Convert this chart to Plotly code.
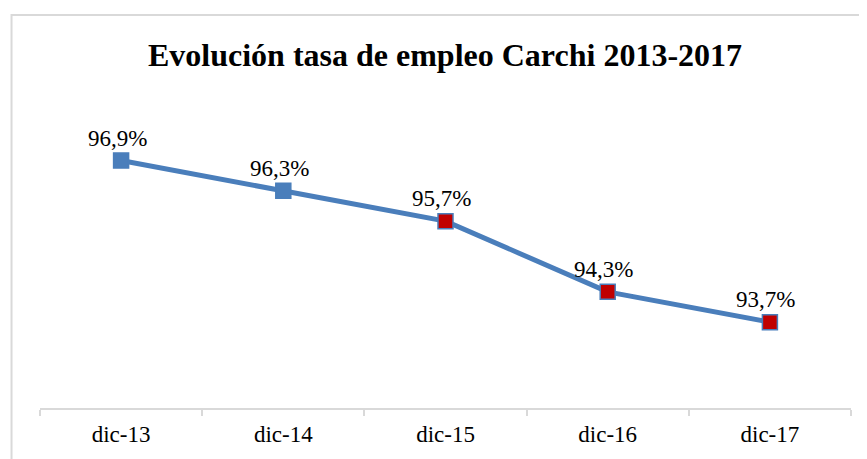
import plotly.graph_objects as go

categories = ["dic-13", "dic-14", "dic-15", "dic-16", "dic-17"]
values = [96.9, 96.3, 95.7, 94.3, 93.7]
labels = ["96,9%", "96,3%", "95,7%", "94,3%", "93,7%"]
marker_fill = ["#4A7EBB", "#4A7EBB", "#C00000", "#C00000", "#C00000"]

BLUE = "#4A7EBB"
FONT = "Liberation Serif"

fig = go.Figure()
fig.add_trace(go.Scatter(
    x=categories, y=values, mode="lines+markers",
    line=dict(color=BLUE, width=5),
    marker=dict(symbol="square", size=15, color=marker_fill,
                line=dict(color=BLUE, width=1.5)),
    hoverinfo="skip", showlegend=False,
))

for c, v, t in zip(categories, values, labels):
    fig.add_annotation(x=c, y=v, text=t, showarrow=False, yanchor="bottom",
                       xshift=-4, yshift=8,
                       font=dict(family=FONT, size=23, color="#000000"))

fig.add_shape(type="rect", xref="paper", yref="paper",
              x0=-0.0351, x1=1.2, y0=-0.5, y1=1.2967,
              line=dict(color="#D9D9D9", width=2), fillcolor="rgba(0,0,0,0)",
              layer="below")

fig.update_layout(
    width=859, height=451,
    margin=dict(l=32, r=16, t=97, b=49),
    paper_bgcolor="white", plot_bgcolor="white",
    font=dict(family=FONT, size=23, color="#000000"),
    title=dict(text="Evolución tasa de empleo Carchi 2013-2017",
               font=dict(family=FONT, size=32, color="#000000", weight="bold"),
               x=437/859, xanchor="center", xref="container",
               y=1-47/451, yanchor="middle", yref="container"),
    xaxis=dict(type="category", tickson="boundaries", ticks="outside", ticklen=6,
               tickcolor="#D9D9D9", tickwidth=1.5,
               showline=True, linecolor="#D9D9D9", linewidth=1.5,
               showgrid=False, zeroline=False, ticklabelstandoff=5,
               tickfont=dict(family=FONT, size=23, color="#000000"),
               range=[-0.5, 4.5]),
    yaxis=dict(range=[92, 98], visible=False, showgrid=False, zeroline=False),
)

fig.write_html("out.html")
